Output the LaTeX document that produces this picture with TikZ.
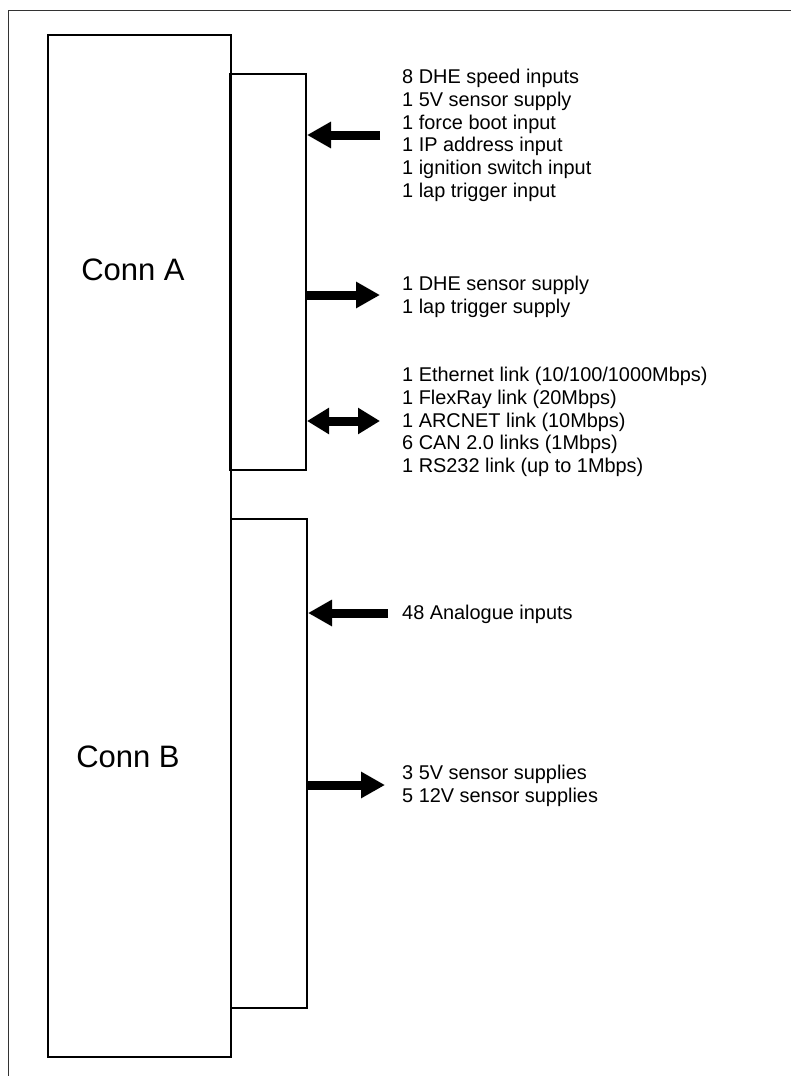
\documentclass[tikz,border=0pt]{standalone}
\usepackage{fontspec}
\setmainfont{Liberation Sans}
\usetikzlibrary{arrows.meta}
\begin{document}
\begin{tikzpicture}[x=1pt,y=-1pt,
  box/.style={draw,line width=2pt,inner sep=0pt},
  bigarrow/.style={line width=9pt,-{Triangle[length=24pt,width=25pt]}},
  dblarrow/.style={line width=9pt,{Triangle[length=22pt,width=25pt]}-{Triangle[length=22pt,width=25pt]}},
  info/.style={anchor=base west,align=left,inner sep=0pt,font=\fontsize{19.9}{22.8}\selectfont},
  conn/.style={inner sep=0pt,font=\fontsize{31}{36}\selectfont}]
\useasboundingbox (0,0) rectangle (791,1076);
% frame
\draw[line width=1pt,black!80] (8,1076) -- (8,10) -- (791,10);
% boxes
\node[box,minimum width=183pt,minimum height=1022pt] (main) at (139.5,546) {};
\node[box,minimum width=76pt,minimum height=396pt] (connA) at (268,272) {};
\node[box,minimum width=76pt,minimum height=489pt] (connB) at (269,763.5) {};
\node[conn] (la) at (133,270) {Conn A};
\node[conn] (lb) at (128,757) {Conn B};
% texts (anchored at the baseline of their last line)
\node[info] (t1) at (402,197.5) {8 DHE speed inputs\\1 5V sensor supply\\1 force boot input\\1 IP address input\\1 ignition switch input\\1 lap trigger input};
\node[info] (t2) at (402,313.3) {1 DHE sensor supply\\1 lap trigger supply};
\node[info] (t3) at (402,472.7) {1 Ethernet link (10/100/1000Mbps)\\1 FlexRay link (20Mbps)\\1 ARCNET link (10Mbps)\\6 CAN 2.0 links (1Mbps)\\1 RS232 link (up to 1Mbps)};
\node[info] (t4) at (402,619.5) {48 Analogue inputs};
\node[info] (t5) at (402,802.3) {3 5V sensor supplies\\5 12V sensor supplies};
% arrow ends
\coordinate (e1) at (380,135);
\coordinate (e2) at (380,295);
\coordinate (e3) at (380,421);
\coordinate (e4) at (388,613);
\coordinate (e5) at (385,785);
\draw[bigarrow] (e1) -- (e1 -| connA.east);
\draw[bigarrow] (e2 -| connA.east) -- (e2);
\draw[dblarrow] (e3 -| connA.east) -- (e3);
\draw[bigarrow] (e4) -- (e4 -| connB.east);
\draw[bigarrow] (e5 -| connB.east) -- (e5);
\end{tikzpicture}
\end{document}
